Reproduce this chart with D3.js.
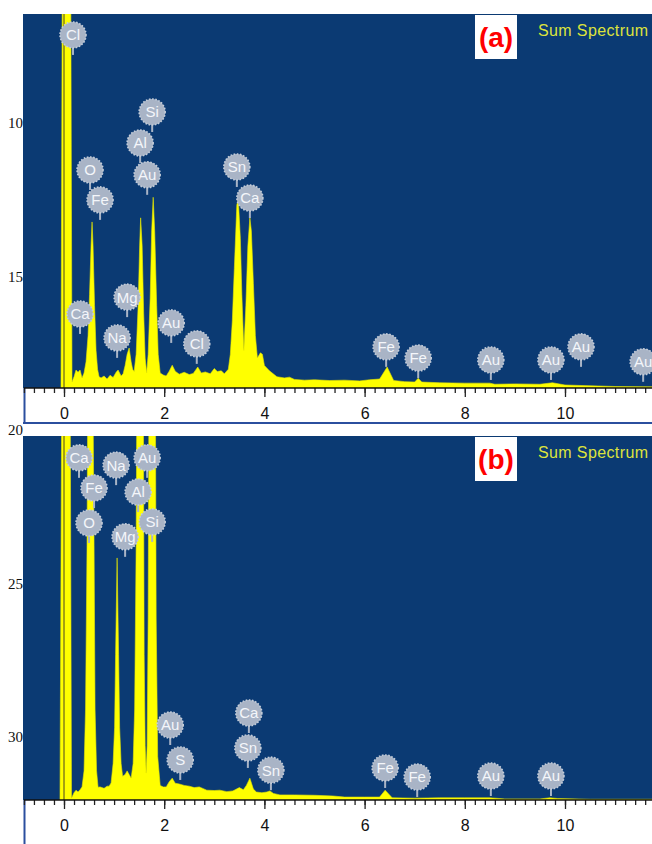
<!DOCTYPE html>
<html>
<head>
<meta charset="utf-8">
<script src="https://cdn.jsdelivr.net/npm/d3@7"></script>
<style>
body { margin: 0; background: #fff; }
svg { display: block; }
</style>
</head>
<body>
<div id="vis"><svg></svg></div>
<script>
var width = 652, height = 844

// numbers left over from the figure behind the two spectra
var sideTicks = [10, 15, 20, 25, 30]
var energyTicks = [0, 2, 4, 6, 8, 10]

// [keV, counts] (a)
var specA = [[-0.06,0],[-0.03,130],[0.13,130],[0.16,1.6],[0.2,3],[0.24,4.8],[0.28,4.2],[0.32,4.8],[0.36,2.7],
  [0.4,4],[0.44,7],[0.48,14],[0.51,25],[0.54,38],[0.56,44.4],[0.58,38],[0.61,22],[0.64,10],[0.67,5],[0.7,3],
  [0.74,2.7],[0.8,3.2],[0.86,2.4],[0.92,3.4],[0.98,2.8],[1.04,4.2],[1.08,4.8],[1.14,3.2],[1.18,3.8],[1.22,6],
  [1.26,9],[1.3,10.7],[1.34,7],[1.37,5],[1.4,4.4],[1.44,9],[1.48,22],[1.51,38],[1.53,45.5],[1.56,38],
  [1.59,20],[1.62,8],[1.65,4],[1.68,9],[1.72,24],[1.75,42],[1.78,51],[1.81,42],[1.85,22],[1.88,9],[1.92,4],
  [1.98,3.5],[2.04,3.2],[2.1,4.5],[2.16,6.1],[2.22,4.5],[2.3,3.7],[2.4,4.2],[2.5,3.6],[2.58,3.9],[2.67,5.6],
  [2.74,4],[2.82,4.3],[2.92,3.8],[3.0,5.2],[3.06,4.4],[3.14,4.6],[3.2,3.8],[3.28,5],[3.32,9],[3.36,18],
  [3.4,32],[3.45,49],[3.48,50.3],[3.52,40],[3.55,25],[3.59,10],[3.63,22],[3.67,38],[3.71,45.5],[3.74,42],
  [3.78,28],[3.82,14],[3.86,8],[3.92,9.4],[3.96,9],[4.0,6],[4.1,4.6],[4.25,3],[4.4,2.7],[4.5,2.9],[4.6,2.3],
  [4.8,2.1],[5.0,2.2],[5.3,2.0],[5.6,2.1],[5.9,1.9],[6.1,2.2],[6.3,2.4],[6.45,5.6],[6.58,2],[6.8,1.7],
  [7.0,1.6],[7.07,2.6],[7.14,1.6],[7.5,1.4],[8.0,1.3],[8.5,1.3],[8.6,1.0],[9.0,1.1],[9.5,1.0],[9.75,1.4],
  [10.0,0.8],[10.5,0.6],[11.0,0.4],[11.8,0.3]]

// [keV, counts] (b)
var specB = [[-0.08,0],[-0.04,130],[0.12,130],[0.15,0.5],[0.2,2],[0.24,2.7],[0.28,2.2],[0.32,2.8],[0.36,3.6],
  [0.4,8],[0.43,25],[0.46,70],[0.48,130],[0.57,130],[0.6,70],[0.62,25],[0.65,8],[0.68,3.5],[0.72,3.6],
  [0.8,3.2],[0.86,3.8],[0.9,3.8],[0.94,4.7],[0.98,10],[1.01,20],[1.03,40],[1.06,66.5],[1.09,40],[1.11,20],
  [1.14,10],[1.17,6.5],[1.22,7],[1.26,8],[1.3,7],[1.34,6],[1.38,10],[1.41,25],[1.44,70],[1.46,130],
  [1.58,130],[1.6,40],[1.62,15],[1.64,7.4],[1.66,15],[1.68,50],[1.7,130],[1.82,130],[1.84,50],[1.87,12],
  [1.92,4],[1.98,3.6],[2.04,3.6],[2.1,5],[2.16,6],[2.22,4.6],[2.3,4.4],[2.4,4],[2.5,3.8],[2.6,3.4],[2.7,3.6],
  [2.85,2.7],[3.0,2.6],[3.11,2.7],[3.25,2.3],[3.37,2.5],[3.5,3.4],[3.58,2.8],[3.64,4],[3.71,6],[3.78,3],
  [3.84,2.2],[3.95,2],[4.05,2.2],[4.11,2.5],[4.18,1.8],[4.31,1.4],[4.6,1.4],[5.0,1.3],[5.37,1.1],[5.6,0.8],
  [6.0,0.8],[6.3,0.8],[6.41,2.7],[6.55,0.6],[7.0,0.5],[7.5,0.6],[8.0,0.6],[8.5,0.6],[8.8,0.3],[9.5,0.3],
  [9.7,0.6],[9.85,0.4],[10.5,0.2],[11.8,0.2]]

// element tags: [symbol, keV, count level of the badge]
var labelsA = [['Cl',0.18,94.4],['Si',1.76,73.8],['Al',1.52,65.5],['O',0.52,58.3],['Au',1.66,57],
  ['Fe',0.72,50.3],['Sn',3.45,59.1],['Ca',3.71,50.8],['Ca',0.32,19.8],['Mg',1.26,24.3],['Na',1.06,13.4],
  ['Au',2.14,17.4],['Cl',2.65,11.8],['Fe',6.43,11],['Fe',7.07,8],['Au',8.52,7.5],['Au',9.72,7.5],
  ['Au',10.32,11],['Au',11.56,7]]
var labelsB = [['Ca',0.3,94],['Na',1.04,92],['Au',1.66,94],['Fe',0.6,85.7],['Al',1.48,84.6],['O',0.5,76.1],
  ['Si',1.76,76.4],['Mg',1.22,72.3],['Au',2.12,20.6],['S',2.32,11],['Ca',3.69,23.9],['Sn',3.67,14.3],
  ['Sn',4.13,8.2],['Fe',6.41,8.8],['Fe',7.05,6.3],['Au',8.52,6.6],['Au',9.72,6.6]]

var panels = [
  {name:'(a)', top:14, base:388, bottom:424, spec:specA, labels:labelsA},
  {name:'(b)', top:436, base:800, bottom:850, spec:specB, labels:labelsB}
]

var svg = d3.select('#vis').select('svg')
  .attr('width', width).attr('height', height)

var x = d3.scaleLinear().domain([0, 10]).range([64, 565])
var left = 23

panels.forEach((p, pi) => {
  var y = d3.scaleLinear().domain([0, 100]).range([p.base, p.top])
  var g = svg.append('g')

  g.append('rect')
    .attr('x', left).attr('y', p.top)
    .attr('width', width - left).attr('height', p.base - p.top)
    .attr('fill', '#0b3a73')

  g.append('clipPath').attr('id', 'clip' + pi)
    .append('rect')
    .attr('x', left).attr('y', p.top)
    .attr('width', width - left).attr('height', p.base - p.top)

  var area = d3.area()
    .x(d => x(d[0]))
    .y0(y(0))
    .y1(d => y(d[1]))

  g.append('path')
    .datum(p.spec)
    .attr('clip-path', 'url(#clip' + pi + ')')
    .attr('d', area)
    .attr('fill', '#ffff00')
    .attr('stroke', '#e8e800')
    .attr('stroke-width', 0.6)

  // zero strobe marker
  g.append('line')
    .attr('x1', x(0)).attr('x2', x(0))
    .attr('y1', p.top).attr('y2', p.base)
    .attr('stroke', '#4a4520').attr('stroke-width', 1)

  // white energy strip
  g.append('rect')
    .attr('x', left + 1).attr('y', p.base)
    .attr('width', width - left - 1).attr('height', p.bottom - p.base)
    .attr('fill', '#fff')
  g.append('line')
    .attr('x1', left + 1.5).attr('x2', left + 1.5)
    .attr('y1', p.base).attr('y2', p.bottom)
    .attr('stroke', '#2b4f9e').attr('stroke-width', 2)
  g.append('line')
    .attr('x1', left).attr('x2', width)
    .attr('y1', p.bottom - 1).attr('y2', p.bottom - 1)
    .attr('stroke', '#2b4f9e').attr('stroke-width', 2)

  var minor = d3.axisBottom(x)
    .tickValues(d3.range(-4, 59).map(i => i * 0.2))
    .tickSize(5)
    .tickFormat('')
  var ax1 = g.append('g').attr('transform', 'translate(0,' + p.base + ')').call(minor)
  ax1.select('.domain').remove()

  var major = d3.axisBottom(x)
    .tickValues(energyTicks)
    .tickSize(9)
    .tickPadding(11)
    .tickFormat(d3.format('d'))
  var ax2 = g.append('g').attr('transform', 'translate(0,' + p.base + ')').call(major)
  ax2.select('.domain').remove()
  ax2.selectAll('text')
    .attr('font-family', 'Liberation Sans, Arial, sans-serif')
    .attr('font-size', 16)
    .attr('fill', '#111')
  g.selectAll('.tick line').attr('stroke', '#222').attr('stroke-width', 1.3)

  g.append('line')
    .attr('x1', left + 1).attr('x2', width)
    .attr('y1', p.base).attr('y2', p.base)
    .attr('stroke', '#111').attr('stroke-width', 1.6)

  // element badges
  var r = 13
  var tag = g.selectAll('.tag')
    .data(p.labels)
    .enter().append('g')
    .attr('class', 'tag')
    .attr('transform', d => 'translate(' + x(d[1]) + ',' + y(d[2]) + ')')
  tag.append('line')
    .attr('x1', 0).attr('x2', 0)
    .attr('y1', r - 1).attr('y2', r + 7)
    .attr('stroke', '#a9b4c6').attr('stroke-width', 2)
  tag.append('circle')
    .attr('r', r)
    .attr('fill', '#a9b4c6')
    .attr('stroke', '#c3ccd9')
    .attr('stroke-width', 1.6)
    .attr('stroke-dasharray', '1.6 1.6')
  tag.append('text')
    .attr('text-anchor', 'middle')
    .attr('dy', '0.36em')
    .attr('font-family', 'Liberation Sans, Arial, sans-serif')
    .attr('font-size', 15)
    .attr('fill', '#f4f6fa')
    .text(d => d[0])

  // panel letter and title
  g.append('rect')
    .attr('x', 475).attr('y', p.top + 1)
    .attr('width', 42).attr('height', 44)
    .attr('fill', '#fff')
  g.append('text')
    .attr('x', 496).attr('y', p.top + 33)
    .attr('text-anchor', 'middle')
    .attr('font-family', 'Liberation Sans, Arial, sans-serif')
    .attr('font-weight', 'bold')
    .attr('font-size', 28)
    .attr('fill', '#ff0000')
    .text(p.name)
  g.append('text')
    .attr('x', 538).attr('y', p.top + 22)
    .attr('textLength', 110)
    .attr('font-family', 'Liberation Sans, Arial, sans-serif')
    .attr('font-size', 16)
    .attr('fill', '#dde33c')
    .text('Sum Spectrum')
})

var sideY = d3.scaleLinear().domain([10, 30]).range([123, 737])
svg.selectAll('.side')
  .data(sideTicks)
  .enter().append('text')
  .attr('class', 'side')
  .attr('x', 23)
  .attr('y', d => sideY(d))
  .attr('dy', '0.35em')
  .attr('text-anchor', 'end')
  .attr('font-family', 'Liberation Serif, Times New Roman, serif')
  .attr('font-size', 15)
  .attr('fill', '#111')
  .text(d => d)
</script>
</body>
</html>
